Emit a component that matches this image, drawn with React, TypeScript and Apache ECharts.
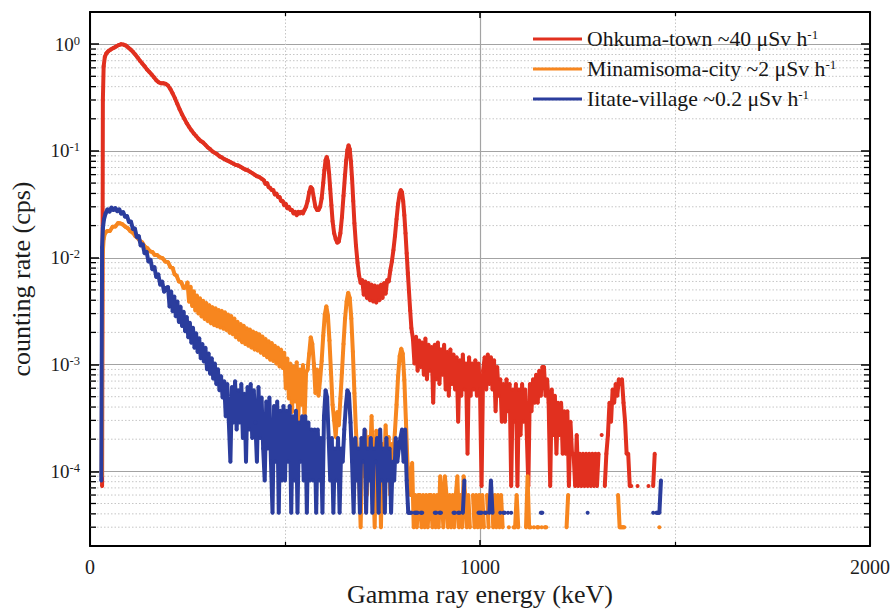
import React, { useEffect, useRef } from "react";
import * as echarts from "echarts";

// ---------- texts ----------
const SERIES_NAMES = ["Ohkuma-town", "Minamisoma-city", "Iitate-village"];
const LEGEND_TEXT = ["Ohkuma-town ~40 μSv h", "Minamisoma-city ~2 μSv h", "Iitate-village ~0.2 μSv h"];
const LEGEND_SUP = "-1";
const X_TITLE = "Gamma ray energy (keV)";
const Y_TITLE = "counting rate (cps)";
const COLORS = ["#e1301f", "#f7861f", "#2b3d9d"];

// ---------- axes ----------
const X_MIN = 0;
const X_MAX = 2000;
const X_INTERVAL = 1000;
const Y_MIN = 2e-5;
const Y_MAX = 2;
const Y_MINOR_MANTISSAS = [2, 3, 4, 5, 6, 7, 8, 9];
const Y_DECADES = [-5, -4, -3, -2, -1, 0];

// ---------- data ----------
// spectra: energy (keV) vs counting rate (cps); tails given as counts per 4 keV bin
const BIN_WIDTH = 4;
const RED_UNIT = 7.3e-5; // cps of one count
const ORANGE_UNIT = 3.0e-5;
const BLUE_UNIT = 4.1e-5;

// Ohkuma-town
const RED_MAIN: [number, number][] = [
  [31, 7.3e-5], [33, 0.30], [35, 0.62], [38, 0.76], [42, 0.82], [47, 0.86], [53, 0.89], [60, 0.92], [67, 0.95],
  [74, 0.98], [80, 1.0], [86, 0.99], [92, 0.97], [98, 0.93], [104, 0.89], [110, 0.85], [116, 0.80], [122, 0.75],
  [128, 0.70], [134, 0.66], [140, 0.62], [146, 0.58], [152, 0.55], [158, 0.52], [164, 0.49], [170, 0.46],
  [176, 0.44], [182, 0.43], [188, 0.43], [194, 0.425], [200, 0.41], [206, 0.38], [212, 0.345], [218, 0.31],
  [224, 0.275], [230, 0.245], [236, 0.22], [242, 0.20], [248, 0.182], [254, 0.168], [260, 0.156], [266, 0.146],
  [272, 0.138], [278, 0.13], [284, 0.124], [290, 0.12], [296, 0.114], [302, 0.108], [308, 0.104], [314, 0.099],
  [320, 0.096], [326, 0.093], [332, 0.089], [338, 0.087], [344, 0.084], [350, 0.082], [356, 0.080], [362, 0.078],
  [368, 0.076], [374, 0.074], [380, 0.073], [386, 0.071], [392, 0.069], [398, 0.067], [404, 0.066], [410, 0.064],
  [416, 0.062], [422, 0.060], [428, 0.058], [434, 0.057], [440, 0.055], [446, 0.053], [450, 0.049], [454, 0.050],
  [458, 0.046], [462, 0.045], [466, 0.043], [470, 0.043], [474, 0.039], [478, 0.040], [482, 0.037], [486, 0.037],
  [490, 0.034], [494, 0.034], [498, 0.031], [502, 0.032], [506, 0.029], [510, 0.030], [514, 0.028], [518, 0.028],
  [522, 0.026], [526, 0.027], [530, 0.025], [534, 0.027], [538, 0.026], [542, 0.027], [546, 0.026], [550, 0.028],
  [554, 0.030], [558, 0.034], [562, 0.041], [566, 0.046], [570, 0.044], [574, 0.036], [578, 0.030], [582, 0.028],
  [586, 0.028], [590, 0.030], [594, 0.036], [598, 0.050], [601, 0.066], [604, 0.082], [607, 0.088], [610, 0.080],
  [613, 0.062], [616, 0.044], [619, 0.031], [622, 0.022], [626, 0.017], [630, 0.0150], [634, 0.0138], [638, 0.0142],
  [642, 0.017], [646, 0.024], [650, 0.038], [654, 0.060], [657, 0.082], [660, 0.102], [663, 0.113], [666, 0.104],
  [669, 0.080], [672, 0.055], [675, 0.034], [678, 0.021], [682, 0.0130], [686, 0.0090], [690, 0.0068],
  [694, 0.0058], [698, 0.0062], [702, 0.0045], [706, 0.0060], [710, 0.0042], [714, 0.0058], [718, 0.0040],
  [722, 0.0056], [726, 0.0039], [730, 0.0055], [734, 0.0038], [738, 0.0054], [742, 0.0040], [746, 0.0056],
  [750, 0.0042], [754, 0.0058], [758, 0.0046], [762, 0.0062], [766, 0.0060], [770, 0.0076], [774, 0.0092],
  [778, 0.0118], [782, 0.016], [786, 0.023], [790, 0.032], [794, 0.040], [797, 0.043], [800, 0.041], [803, 0.034],
  [806, 0.025], [809, 0.017], [812, 0.011], [815, 0.0072], [818, 0.0048], [821, 0.0032], [824, 0.0022],
];
const RED_TAIL_START = 828;
const RED_TAIL_COUNTS = [
  24, 14, 25, 12, 23, 13, 22, 11, 24, 10, 21, 12, 20, 6,
  21, 10, 22, 9, 19, 11, 21, 8, 18, 7, 19, 9,
  17, 8, 16, 4, 15, 7, 17, 8, 14, 2, 16, 7, 14, 8, 15, 7, 14, 8,
  1, 12, 16, 8, 17, 9, 16, 8, 15, 5, 13, 7,
  10, 4, 9, 4, 10, 5, 9, 1, 8,
  4, 9, 1, 8, 3, 9, 4, 8, 3,
  1, 9, 5, 10, 6, 11, 6, 12, 7, 13, 13, 7, 10,
  6, 1, 8, 3, 7, 2, 6, 3, 6, 2, 5, 2, 5, 1, 4, 2,
  2, 1, 3, 1, 2, 1, 2, 1, 2, 1, 2, 1, 2, 1, 2, 1, 2, 0, 3, 0, 1, 2,
  3, 6, 4, 8, 6, 9, 7, 10, 9, 10, 6, 4, 2, 2, 1, 1,
  0, 0, 0, 1, 0, 0, 0, 0, 0, 0, 1, 0, 0, 1, 2,
];

// Minamisoma-city
const ORANGE_MAIN: [number, number][] = [
  [30, 9e-5], [32, 0.0100], [35, 0.0150], [38, 0.0168], [44, 0.0178], [51, 0.0178], [58, 0.0195], [65, 0.0196],
  [72, 0.0212], [77, 0.0210], [83, 0.0206], [90, 0.0196], [97, 0.0189], [103, 0.0178], [110, 0.0171],
  [116, 0.0160], [122, 0.0153], [128, 0.0144], [134, 0.0139], [140, 0.0128], [147, 0.0123], [154, 0.0115],
  [160, 0.0113], [166, 0.0106], [172, 0.0106], [179, 0.0101], [186, 0.0099], [193, 0.0092], [200, 0.0091],
  [206, 0.0082], [212, 0.0080], [217, 0.0070], [222, 0.0068], [228, 0.0060], [234, 0.0059], [240, 0.0052],
  [246, 0.0053],
];
const ORANGE_TAIL_START = 250;
const ORANGE_TAIL_COUNTS = [
  196, 129, 178, 118, 162, 107, 148, 100, 139, 94, 132, 89, 126, 85, 120, 81, 115, 78, 112, 76, 108, 74, 106,
  72, 103, 70, 98, 66, 95, 64, 90, 60, 84, 57, 80, 54, 77, 52, 73, 50, 71, 48, 68,
  46, 66, 45, 64, 43, 61, 41, 58, 39, 55, 37, 53, 36, 50, 34, 48, 32, 46, 31, 43,
  20, 38, 16, 34, 12, 32, 15, 35, 10, 30, 14, 33, 10, 28,
  30, 42, 60, 52, 34,
  18, 30, 17, 24,
  36, 62, 98, 117, 96, 56, 28, 14,
  10, 7, 12, 9, 16,
  28, 52, 90, 130, 157, 140, 90, 44, 18, 8,
  4, 3, 1, 6, 3, 8, 2, 7, 4, 11, 3, 1, 8, 4, 7, 1, 6, 3, 9, 4, 7, 2, 6, 5,
  8, 14, 26, 40, 47, 42, 24, 10, 4, 3,
  2, 4, 1, 2, 1, 2, 2, 1, 2, 1, 2, 1, 2, 2, 1, 2, 1, 2, 1, 3, 2, 1, 3, 2, 1, 2, 1, 2, 1, 2,
  3, 1, 2, 1, 3, 2, 1, 2, 1, 0, 2, 1, 2, 1, 2,
  1, 2, 1, 0, 2, 1, 0, 2, 1, 2, 1, 2, 1, 2, 1, 0, 0, 0, 1, 0, 0, 1, 1, 2, 1, 0, 0, 0, 0, 1,
  3, 1, 1, 0, 1, 0, 1, 1, 0, 1, 0, 1, 1, 0,
];
const ORANGE_SPARSE: [number, number][] = [
  [1222, 1], [1226, 2], [1230, 0], [1354, 2], [1358, 1], [1362, 1], [1366, 1], [1370, 1], [1374, 0],
  [1460, 1], [1464, 0],
];

// Iitate-village
const BLUE_MAIN: [number, number][] = [
  [29, 8.2e-5], [31, 0.0125], [33, 0.019], [36, 0.023], [40, 0.026], [45, 0.0285], [50, 0.027], [55, 0.0295],
  [60, 0.028], [65, 0.0292], [70, 0.0272], [75, 0.0284], [80, 0.0258], [85, 0.0268], [90, 0.0242], [95, 0.0246],
  [100, 0.0216], [105, 0.0218], [110, 0.0186], [115, 0.0188], [120, 0.0156], [125, 0.0160], [130, 0.0130],
  [135, 0.0134], [140, 0.0110], [145, 0.0114], [150, 0.0092], [155, 0.0096], [160, 0.0078], [165, 0.0082],
  [170, 0.0066], [175, 0.0070], [180, 0.0056], [185, 0.0060], [190, 0.0048], [195, 0.0052],
];
const BLUE_TAIL_START = 200;
const BLUE_TAIL_COUNTS = [
  130, 85, 118, 77, 106, 69, 95, 61, 85, 56, 76, 50, 68, 44, 60, 39, 54, 35, 48, 32,
  43, 28, 38, 26, 35, 22, 31, 20, 28, 18, 25, 16, 22, 14, 19, 12,
  17, 8, 16, 7, 3, 15, 7, 17, 6, 14, 7, 16, 5, 13, 3, 15, 6, 16, 5, 14, 7, 3, 15, 5, 12,
  4, 2, 11, 4, 12, 3, 1, 10, 3, 11, 1, 9, 2,
  10, 2, 9, 3, 10, 1, 8, 2, 9, 1, 7, 3, 8, 2, 8, 1, 7, 2,
  6, 2, 6, 1, 6, 2, 5, 1, 8,
  14, 12, 5,
  2, 5, 1, 4, 2, 5, 1, 4, 3, 6,
  10, 14, 13, 7, 3,
  1, 5, 2, 4, 1, 5, 3, 6, 1, 4, 2, 5, 1, 4, 3, 5, 1, 6, 2, 4, 1, 5, 2, 4, 1,
  3, 2, 5, 3, 4, 5, 6, 3, 6, 2, 1,
  1, 1, 0, 1, 1, 1, 0, 1, 1, 0, 0, 0, 0, 0, 0, 0,
  1, 1, 0, 1, 1, 0, 0, 0, 0, 0, 0, 0,
  1, 1, 0, 1, 1, 0, 1, 2, 0, 0, 0, 0, 0, 0, 0, 0,
  1, 1, 1, 0, 1, 1, 0, 1, 2, 1, 0, 0, 0, 0,
  1, 0, 1, 1, 0, 1, 0, 1, 0,
];
const BLUE_SPARSE: [number, number][] = [
  [1156, 1], [1160, 1], [1164, 0], [1276, 1], [1280, 0], [1444, 1], [1448, 0], [1452, 1], [1456, 1],
  [1460, 1], [1464, 2],
];

const SERIF = "'Liberation Serif', 'Times New Roman', serif";

function fromCounts(start: number, counts: number[], unit: number) {
  return counts.map((c, i) => [start + i * BIN_WIDTH, c > 0 ? c * unit : null]);
}
function fromPairs(pairs: [number, number][], unit: number) {
  return pairs.map(([e, c]) => [e, c > 0 ? c * unit : null]);
}

export default function App() {
  const ref = useRef<HTMLDivElement>(null);
  useEffect(() => {
    if (!ref.current) return;
    const chart = echarts.init(ref.current, null, { renderer: "svg" });

    const redData = [...RED_MAIN, ...fromCounts(RED_TAIL_START, RED_TAIL_COUNTS, RED_UNIT)];
    const orangeData = [
      ...ORANGE_MAIN,
      ...fromCounts(ORANGE_TAIL_START, ORANGE_TAIL_COUNTS, ORANGE_UNIT),
      ...fromPairs(ORANGE_SPARSE, ORANGE_UNIT),
    ];
    const blueData = [
      ...BLUE_MAIN,
      ...fromCounts(BLUE_TAIL_START, BLUE_TAIL_COUNTS, BLUE_UNIT),
      ...fromPairs(BLUE_SPARSE, BLUE_UNIT),
    ];

    const minorY: number[][] = [];
    Y_DECADES.forEach((d) =>
      Y_MINOR_MANTISSAS.forEach((m) => {
        const v = m * Math.pow(10, d);
        if (v > Y_MIN * 1.0001 && v < Y_MAX * 0.9999) minorY.push([0, v]);
      })
    );

    const lineSeries = (name: string, data: any[], color: string, z: number) => ({
      name,
      type: "line",
      data,
      xAxisIndex: 0,
      yAxisIndex: 0,
      showSymbol: true,
      showAllSymbol: true,
      symbol: "circle",
      symbolSize: 4,
      connectNulls: false,
      lineStyle: { color, width: 4 },
      itemStyle: { color },
      z,
      silent: true,
      clip: true,
    });

    const legendRich = {
      t: { fontFamily: SERIF, fontSize: 21.7, color: "#161616", lineHeight: 22 },
      s: { fontFamily: SERIF, fontSize: 13, color: "#161616", verticalAlign: "top", lineHeight: 13 },
    };

    const axisLineStyle = { color: "#000", width: 2 };

    chart.setOption({
      animation: false,
      backgroundColor: "#fff",
      textStyle: { fontFamily: SERIF },
      grid: { left: 90, right: 23, top: 12, bottom: 64, containLabel: false, outerBoundsMode: "none" },
      legend: {
        orient: "vertical",
        left: 533,
        top: 28,
        padding: 0,
        itemWidth: 49,
        itemHeight: 3,
        itemGap: 8,
        icon: "rect",
        data: SERIES_NAMES,
        formatter: (name: string) => {
          const i = SERIES_NAMES.indexOf(name);
          return `{t|${LEGEND_TEXT[i]}}{s|${LEGEND_SUP}}`;
        },
        textStyle: { fontFamily: SERIF, fontSize: 21.7, color: "#161616", rich: legendRich },
      },
      xAxis: [
        {
          type: "value",
          position: "bottom",
          min: X_MIN,
          max: X_MAX,
          interval: X_INTERVAL,
          axisLine: { show: true, onZero: false, lineStyle: axisLineStyle },
          axisTick: { show: true, inside: true, length: 6, lineStyle: { color: "#000", width: 1.5 } },
          minorTick: { show: true, splitNumber: 2, length: 4, lineStyle: { color: "#000", width: 1.2 } },
          splitLine: { show: true, lineStyle: { color: "#a3a3a3", width: 1.2 } },
          minorSplitLine: { show: true, lineStyle: { color: "#c6c6c6", width: 1, type: [1.5, 2] } },
          axisLabel: {
            fontFamily: SERIF,
            fontSize: 20,
            color: "#1c1c1c",
            margin: 11,
            formatter: (v: number) => String(v),
          },
          name: X_TITLE,
          nameLocation: "middle",
          nameGap: 34,
          nameTextStyle: { fontFamily: SERIF, fontSize: 26, color: "#1c1c1c" },
        },
        {
          type: "value",
          position: "top",
          min: X_MIN,
          max: X_MAX,
          interval: X_INTERVAL,
          axisLine: { show: true, onZero: false, lineStyle: axisLineStyle },
          axisTick: { show: true, inside: true, length: 6, lineStyle: { color: "#000", width: 1.5 } },
          minorTick: { show: true, splitNumber: 2, length: 4, lineStyle: { color: "#000", width: 1.2 } },
          splitLine: { show: false },
          axisLabel: { show: false },
        },
      ],
      yAxis: [
        {
          type: "log",
          logBase: 10,
          position: "left",
          min: Y_MIN,
          max: Y_MAX,
          axisLine: { show: true, onZero: false, lineStyle: axisLineStyle },
          axisTick: { show: true, inside: true, length: 9, lineStyle: { color: "#000", width: 1.5 } },
          splitLine: { show: true, lineStyle: { color: "#a3a3a3", width: 1.2 } },
          axisLabel: {
            margin: 10,
            formatter: (v: number) => {
              const l = Math.log10(v);
              const e = Math.round(l);
              if (Math.abs(l - e) > 1e-6) return "";
              return `{b|10}{s|${e}}`;
            },
            rich: {
              b: { fontFamily: SERIF, fontSize: 19, color: "#1c1c1c", lineHeight: 20 },
              s: { fontFamily: SERIF, fontSize: 12.5, color: "#1c1c1c", verticalAlign: "top", lineHeight: 12 },
            },
          },
          name: Y_TITLE,
          nameLocation: "middle",
          nameGap: 56,
          nameRotate: 90,
          nameTextStyle: { fontFamily: SERIF, fontSize: 26, color: "#1c1c1c" },
        },
        {
          type: "log",
          logBase: 10,
          position: "right",
          min: Y_MIN,
          max: Y_MAX,
          axisLine: { show: true, onZero: false, lineStyle: axisLineStyle },
          axisTick: { show: true, inside: true, length: 9, lineStyle: { color: "#000", width: 1.5 } },
          splitLine: { show: false },
          axisLabel: { show: false },
        },
      ],
      series: [
        {
          type: "custom",
          name: "minor",
          xAxisIndex: 0,
          yAxisIndex: 0,
          silent: true,
          z: 1,
          data: minorY,
          encode: { x: 0, y: 1 },
          renderItem: (params: any, api: any) => {
            const cs = params.coordSys;
            const y = api.coord([0, api.value(1)])[1];
            return {
              type: "group",
              children: [
                {
                  type: "line",
                  shape: { x1: cs.x, y1: y, x2: cs.x + cs.width, y2: y },
                  style: { stroke: "#c6c6c6", lineWidth: 1, lineDash: [1.5, 2] },
                },
                {
                  type: "line",
                  shape: { x1: cs.x, y1: y, x2: cs.x + 6, y2: y },
                  style: { stroke: "#000", lineWidth: 1.3 },
                },
                {
                  type: "line",
                  shape: { x1: cs.x + cs.width - 6, y1: y, x2: cs.x + cs.width, y2: y },
                  style: { stroke: "#000", lineWidth: 1.3 },
                },
              ],
            };
          },
        },
        lineSeries(SERIES_NAMES[0], redData, COLORS[0], 3),
        lineSeries(SERIES_NAMES[1], orangeData, COLORS[1], 4),
        lineSeries(SERIES_NAMES[2], blueData, COLORS[2], 5),
      ],
    });

    return () => chart.dispose();
  }, []);

  return (
    <div
      ref={ref}
      style={{ position: "absolute", left: 0, top: 0, width: 893, height: 610, background: "#fff" }}
    />
  );
}
